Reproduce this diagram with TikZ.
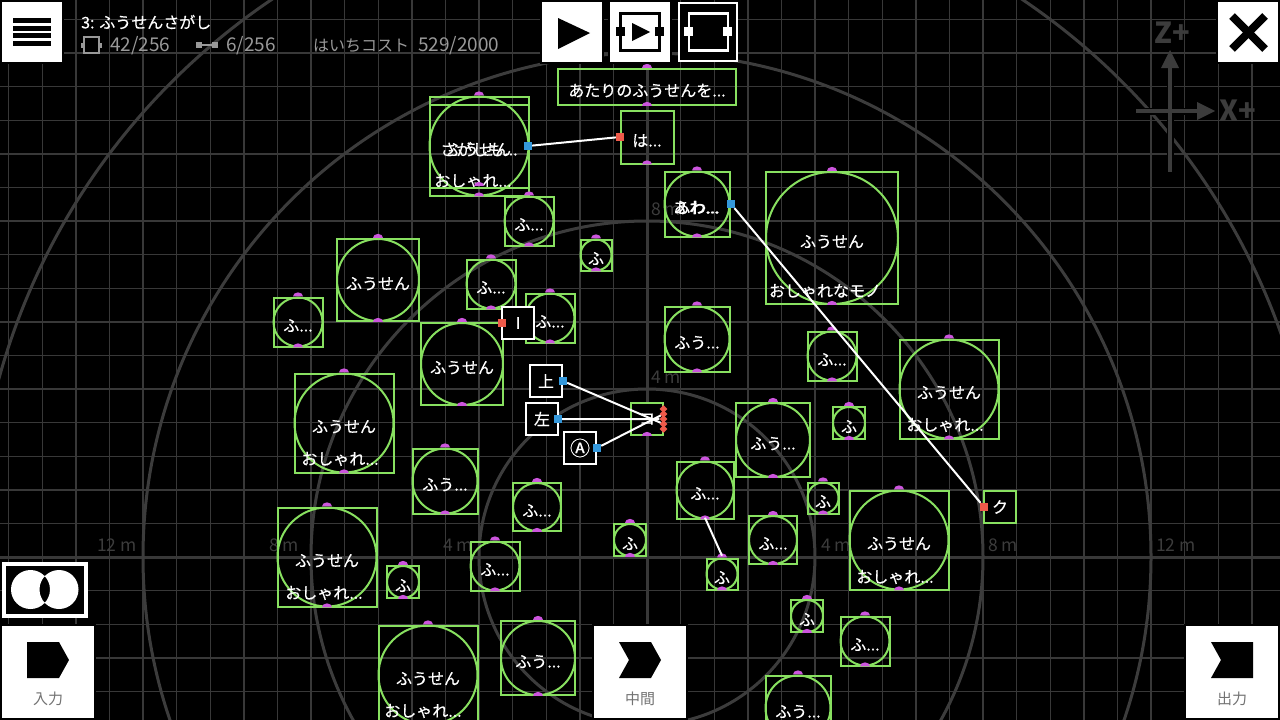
\documentclass[tikz,border=0pt]{standalone}
\usepackage{fontspec}
\setmainfont{Noto Sans CJK JP}
\newfontfamily\nodefont[FakeBold=0.35]{Noto Sans CJK JP}
\usetikzlibrary{positioning,shapes.geometric}
\definecolor{gridc}{HTML}{383838}
\definecolor{ringc}{HTML}{3C3C3C}
\definecolor{ballc}{HTML}{88E060}
\definecolor{pinc}{HTML}{CC55DD}
\definecolor{portin}{HTML}{EE5A4A}
\definecolor{portout}{HTML}{3498DB}
\definecolor{infoc}{HTML}{999999}
\newcommand{\dd}{...}
\tikzset{
  boxnode/.style={draw=ballc,line width=2pt,inner sep=0pt,text=white,minimum size=#1,
    font=\nodefont\fontsize{16}{18}\selectfont,text height=19pt,text depth=0pt},
  ballnode/.style={circle,draw=ballc,line width=2pt,inner sep=0pt,minimum size=#1},
  pinnode/.style={semicircle,fill=pinc,inner sep=0pt,minimum width=10pt,minimum height=5pt,
    yscale=.8,transform shape,anchor=chord center},
  ionode/.style={draw=white,fill=black,line width=2pt,inner sep=0pt,minimum size=32pt,text=white,
    font=\nodefont\fontsize{16}{18}\selectfont},
  gatenode/.style={draw=ballc,fill=black,line width=2pt,inner sep=0pt,minimum size=32pt,text=white,
    font=\nodefont\fontsize{16}{18}\selectfont},
  inport/.style={fill=portin,inner sep=0pt,minimum size=8pt},
  outport/.style={fill=portout,inner sep=0pt,minimum size=8pt},
  wire/.style={draw=white,line width=2pt},
  btn/.style={draw=black,fill=white,line width=2pt},
  btnlabel/.style={text=gray!90!black,font=\fontsize{15}{17}\selectfont,inner sep=0pt},
  rangelabel/.style={text=ringc,font=\fontsize{17.5}{19}\selectfont,inner sep=0pt},
  infolabel/.style={text=infoc,font=\fontsize{16}{18}\selectfont,inner sep=0pt,anchor=west},
  numlabel/.style={infolabel,font=\fontsize{19}{21}\selectfont},
  sublabel/.style={text=white,font=\nodefont\fontsize{16}{18}\selectfont,inner sep=0pt},
  axislabel/.style={text=ringc,font=\fontsize{29}{31}\selectfont\bfseries,inner sep=0pt},
}
\begin{document}
\begin{tikzpicture}[x=1pt,y=-1pt]
  \clip (0,0) rectangle (1280,720);
  \fill[black] (0,0) rectangle (1280,720);
  % floor grid
  \foreach \i in {-20,...,20}{
    \pgfmathsetmacro{\gx}{647+\i*33.6}
    \pgfmathsetmacro{\gy}{557+\i*33.6}
    \draw[gridc,line width=1.4pt] (\gx,0) -- (\gx,720);
    \draw[gridc,line width=1.4pt] (0,\gy) -- (1280,\gy);
  }
  \draw[gridc,line width=3pt] (647,0) -- (647,720);
  \draw[gridc,line width=3pt] (0,557) -- (1280,557);
  \foreach \r in {168,336,504,672}
    \draw[ringc,line width=3pt] (647,557) circle [radius=\r];
  \node[rangelabel] (r12l) at (117,545) {12 m};
  \node[rangelabel] (r8l) at (284,545) {8 m};
  \node[rangelabel] (r4l) at (458,545) {4 m};
  \node[rangelabel] (r4r) at (836,545) {4 m};
  \node[rangelabel] (r8r) at (1003,545) {8 m};
  \node[rangelabel] (r12r) at (1176,545) {12 m};
  \node[rangelabel] (r4u) at (666,377) {4 m};
  \node[rangelabel] (r8u) at (666,209) {8 m};
  % axis mark
  \draw[black,line width=7pt] (1170,66) -- (1170,172);
  \draw[black,line width=7pt] (1136,111) -- (1200,111);
  \draw[ringc,line width=4pt] (1170,66) -- (1170,172);
  \draw[ringc,line width=4pt] (1136,111) -- (1200,111);
  \fill[ringc] (1161,68) -- (1170,50) -- (1179,68) -- cycle;
  \fill[ringc] (1197,102) -- (1215,111) -- (1197,120) -- cycle;
  \node[axislabel] (zl) at (1172,33) {Z+};
  \node[axislabel] (xl) at (1238,111) {X+};
  % balloons
  \foreach \n/\x/\y/\s/\lab in {
    a/479/146/99/{ふうせん},b/697/204/65/{ふわ\dd},c/832/238/132/{ふうせん},d/529/221/49/{ふ\dd},
    e/596/255/31/{ふ},f/378/280/82/{ふうせん},g/491/284/49/{ふ\dd},h/298/322/49/{ふ\dd},
    i/550/318/49/{ふ\dd},j/462/364/82/{ふうせん},k/697/339/65/{ふう\dd},l/832/356/49/{ふ\dd},
    m/949/389/99/{ふうせん},n/344/423/99/{ふうせん},o/773/440/74/{ふう\dd},p/849/423/32/{ふ},
    q/445/481/65/{ふう\dd},r/705/490/57/{ふ\dd},s/537/507/48/{ふ\dd},t/823/498/31/{ふ},
    u/773/540/48/{ふ\dd},v/899/540/99/{ふうせん},w/327/557/99/{ふうせん},x/630/540/32/{ふ},
    y/495/566/49/{ふ\dd},z/403/582/32/{ふ},aa/722/574/31/{ふ},ab/807/616/32/{ふ},
    ac/865/641/49/{ふ\dd},ad/538/658/74/{ふう\dd},ae/428/675/99/{ふうせん},af/798/708/65/{ふう\dd}
  }{
    \node[boxnode=\s pt] (b\n) at (\x,\y) {\lab};
    \node[ballnode=\s pt] (c\n) at (b\n) {};
    \node[pinnode] (pt\n) at (b\n.north) {};
    \node[pinnode] (pb\n) at (b\n.south) {};
  }
  \foreach \n/\dy/\dx/\lab in {a/35/-6/{おしゃれ\dd},c/53/-7/{おしゃれなモノ},m/36/-4/{おしゃれ\dd},
    n/36/-4/{おしゃれ\dd},v/37/-4/{おしゃれ\dd},w/36/-3/{おしゃれ\dd},ae/36/-5/{おしゃれ\dd}}
    \node[sublabel] (s\n) at ([shift={(\dx,\dy)}]b\n.center) {\lab};
  % nodes stacked on the balloons
  \node[boxnode=10pt,minimum width=99pt,minimum height=83pt] (ba2) at (479,146) {さがしも\dd};
  \node[pinnode] (pa2) at (479,186) {};
  \node[boxnode=10pt,draw=none] (bb2) at (696,204) {あわ\dd};
  % text nodes
  \node[boxnode=10pt,minimum width=178pt,minimum height=36pt] (find) at (647,87) {あたりのふうせんを\dd};
  \node[pinnode] (pf1) at (find.north) {};
  \node[pinnode] (pf2) at (find.south) {};
  \node[boxnode=53pt] (hit) at (647,137) {は\dd};
  \node[pinnode] (ph) at (hit.south) {};
  % input and output nodes
  \node[ionode] (up) at (546,381) {上};
  \node[ionode] (left) at (542,419) {左};
  \node[ionode,font=\nodefont\fontsize{20}{22}\selectfont] (btna) at (580,448) {Ⓐ};
  \node[ionode] (bar) at (518,323) {I};
  \node[gatenode] (gate) at (647,419) {コ};
  \node[pinnode] (pg) at (gate.south) {};
  \node[gatenode] (kick) at (1000,507) {ク};
  % ports
  \node[outport] (oa) at (528,146) {};
  \node[inport] (ih) at (620,137) {};
  \node[outport] (ob) at (731,204) {};
  \node[inport] (ik) at (984,507) {};
  \node[outport] (ou) at (563,381) {};
  \node[outport] (ol) at (558,419) {};
  \node[outport] (oc) at (597,448) {};
  \node[inport] (ib) at (502,323) {};
  \foreach \k/\y in {1/409,2/414,3/419,4/424,5/429}
    \node[inport,rotate=45,minimum size=5.5pt] (ig\k) at (663.5,\y) {};
  \path[wire]
    (oa) edge (ih)
    (ob) edge (ik)
    (ou) edge (ig4)
    (ol) edge (ig3)
    (oc) edge (ig2)
    (pbr.center) edge (ptaa.center)
    ;
  % top bar
  \draw[btn] (1,1) rectangle (63,63);
  \foreach \y in {20.5,28,35.5,43.5}
    \fill[black] (13,\y-2.5) rectangle (51,\y+2.5);
  \node[sublabel,anchor=west] (title) at (81,22) {3: ふうせんさがし};
  \draw[infoc,line width=1.5pt] (84,37) rectangle (99,53);
  \fill[infoc] (81,43) rectangle (85,48);
  \fill[infoc] (98,43) rectangle (102,48);
  \fill[infoc] (196,42) rectangle (202,48);
  \fill[infoc] (212,42) rectangle (218,48);
  \draw[infoc,line width=1.5pt] (202,45) -- (212,45);
  \node[numlabel] (cnt1) at (110,46) {42/256};
  \node[numlabel] (cnt2) at (226,46) {6/256};
  \node[infolabel] (cost) at (313,46) {はいちコスト};
  \node[numlabel] (costn) at (418,46) {529/2000};
  \draw[btn] (541,1) rectangle (603,63);
  \fill[black] (558,18) -- (590,33) -- (558,49) -- cycle;
  \draw[btn] (609,1) rectangle (671,63);
  \draw[black,line width=3pt] (620.5,13.5) rectangle (659.5,50.5);
  \fill[black] (616,27) rectangle (625,36);
  \fill[black] (655,27) rectangle (664,36);
  \fill[black] (632,23) -- (650,32) -- (632,41) -- cycle;
  \draw[white,fill=black,line width=2pt] (679,3) rectangle (737,61);
  \draw[white,line width=2.5pt] (689,13.5) rectangle (728,50.5);
  \fill[white] (684,27) rectangle (693,36);
  \fill[white] (723,27) rectangle (732,36);
  \draw[btn] (1217,1) rectangle (1279,63);
  \draw[black,line width=8pt] (1232,16) -- (1265,49);
  \draw[black,line width=8pt] (1265,16) -- (1232,49);
  % mode button
  \draw[white,fill=black,line width=4pt] (4,564) rectangle (86,616);
  \fill[white,even odd rule] (30.5,589.5) circle [radius=19.5] (59,589.5) circle [radius=19.5];
  % bottom bar
  \draw[btn] (1,625) rectangle (95,719);
  \fill[black] (27,642) -- (59,642) -- (69,660) -- (59,678) -- (27,678) -- cycle;
  \node[btnlabel] (inl) at (48,699) {入力};
  \draw[btn] (593,625) rectangle (687,719);
  \fill[black] (619,642) -- (651,642) -- (661,660) -- (651,678) -- (619,678) -- (629,660) -- cycle;
  \node[btnlabel] (midl) at (640,699) {中間};
  \draw[btn] (1185,625) rectangle (1279,719);
  \fill[black] (1211,642) -- (1253,642) -- (1253,678) -- (1211,678) -- (1221,660) -- cycle;
  \node[btnlabel] (outl) at (1232,699) {出力};
\end{tikzpicture}
\end{document}
